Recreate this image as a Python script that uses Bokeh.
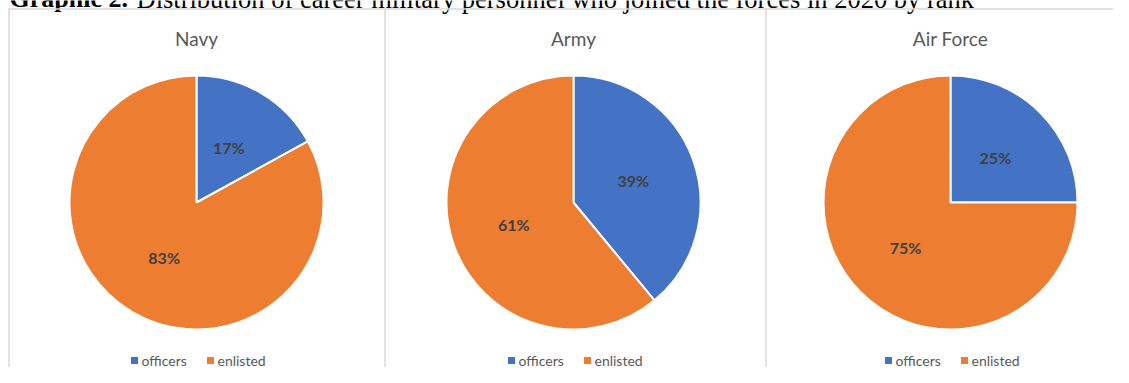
import math
from bokeh.plotting import figure
from bokeh.models import Range1d
from bokeh.core.properties import value
from bokeh.embed import file_html
from bokeh.resources import INLINE

# ---- data ----
chart_title_bold = "Graphic 2."
chart_title_rest = "Distribution of career military personnel who joined the forces in 2020 by rank"
services = ["Navy", "Army", "Air Force"]
categories = ["officers", "enlisted"]
officers_pct = [17, 39, 25]
enlisted_pct = [83, 61, 75]

colors = {"officers": "#4472C4", "enlisted": "#ED7D31"}

W, H = 1113, 367
p = figure(width=W, height=H, output_backend="svg", toolbar_location=None,
           x_range=Range1d(0, W), y_range=Range1d(0, H), min_border=0)
p.axis.visible = False
p.grid.visible = False
p.outline_line_color = None
p.background_fill_color = "white"
p.border_fill_color = "white"


def Y(top):  # convert top-down pixel to data y
    return H - top


radius = 127
cy_top = 202
font = value("Lato")
serif = value("Liberation Serif")

# document title above the charts (cut by the top edge, as in the source)
p.text(x=[9], y=[Y(-2)], text=[chart_title_bold], text_font=serif, text_font_size="26px",
       text_font_style="bold", text_color="black", text_align="left",
       text_baseline="alphabetic")
p.text(x=[136], y=[Y(-2)], text=[chart_title_rest], text_font=serif, text_font_size="26.5px",
       text_color="black", text_align="left", text_baseline="alphabetic")

# frame lines
p.segment(x0=[8.5, 8], y0=[Y(8), Y(8.5)], x1=[8.5, W], y1=[0, Y(8.5)],
          line_color="#D9D9D9", line_width=1.5)
for x in (384.5, 765.5):
    p.segment(x0=[x], y0=[Y(8)], x1=[x], y1=[0], line_color="#D9D9D9", line_width=1.5)

for i, name in enumerate(services):
    cx = 196 + i * 377
    cy = Y(cy_top)
    vals = [officers_pct[i], enlisted_pct[i]]
    start = math.pi / 2
    for cat, v in zip(categories, vals):
        sweep = v / 100 * 2 * math.pi
        end = start - sweep
        p.wedge(x=[cx], y=[cy], radius=radius, radius_units="screen",
                start_angle=start, end_angle=end, direction="clock",
                fill_color=colors[cat], line_color="white", line_width=2)
        mid = start - sweep / 2
        lx = cx + 0.5 * radius * math.cos(mid)
        ly = cy + 0.5 * radius * math.sin(mid)
        p.text(x=[lx], y=[ly], text=[f"{v}%"], text_font=font, text_font_size="16px",
               text_font_style="bold", text_color="#404040",
               text_align="center", text_baseline="middle")
        start = end
    # panel title
    p.text(x=[cx], y=[Y(38)], text=[name], text_font=font, text_font_size="19px",
           text_color="#595959", text_align="center", text_baseline="middle")
    # legend
    ly = Y(360)
    p.rect(x=[cx - 62, cx + 14], y=[ly, ly], width=7, height=7,
           width_units="screen", height_units="screen",
           fill_color=[colors["officers"], colors["enlisted"]], line_color=None)
    p.text(x=[cx - 55, cx + 21], y=[ly, ly], text=categories, text_font=font,
           text_font_size="14px", text_color="#595959",
           text_align="left", text_baseline="middle")

open("out.html", "w").write(file_html(p, INLINE))
